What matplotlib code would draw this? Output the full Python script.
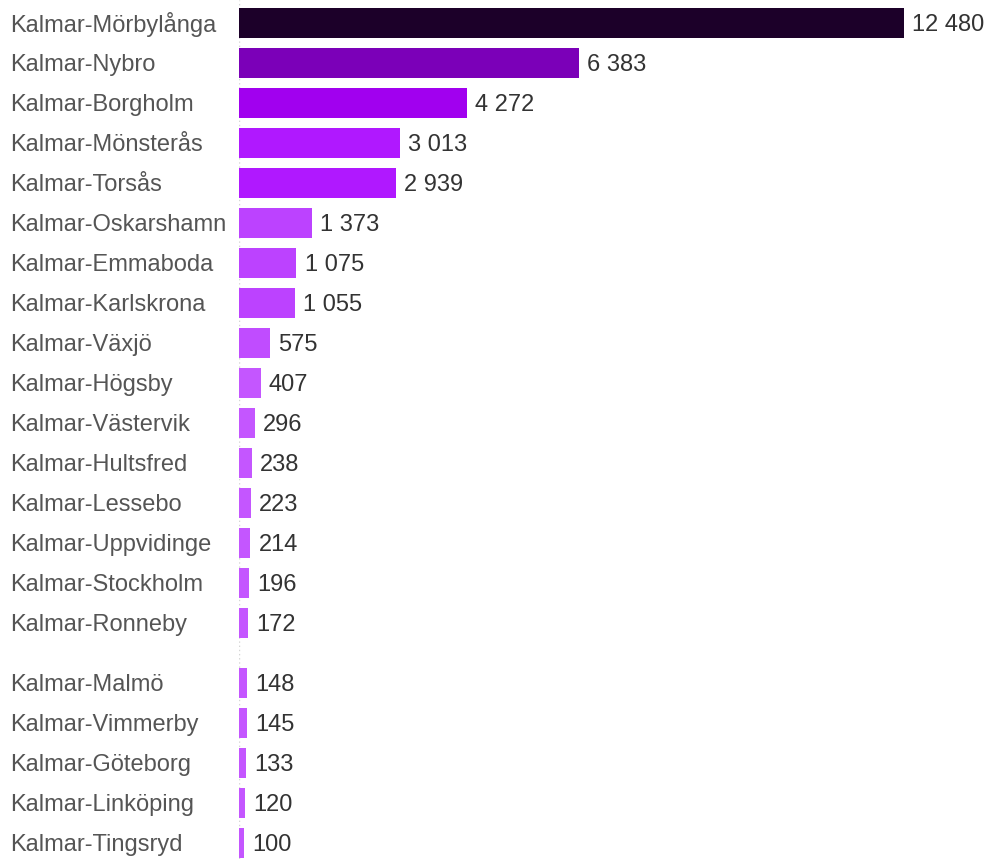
import matplotlib.pyplot as plt

routes = ['Kalmar-Mörbylånga', 'Kalmar-Nybro', 'Kalmar-Borgholm', 'Kalmar-Mönsterås',
          'Kalmar-Torsås', 'Kalmar-Oskarshamn', 'Kalmar-Emmaboda', 'Kalmar-Karlskrona',
          'Kalmar-Växjö', 'Kalmar-Högsby', 'Kalmar-Västervik', 'Kalmar-Hultsfred',
          'Kalmar-Lessebo', 'Kalmar-Uppvidinge', 'Kalmar-Stockholm', 'Kalmar-Ronneby',
          'Kalmar-Malmö', 'Kalmar-Vimmerby', 'Kalmar-Göteborg', 'Kalmar-Linköping',
          'Kalmar-Tingsryd']
values = [12480, 6383, 4272, 3013, 2939, 1373, 1075, 1055, 575, 407, 296, 238,
          223, 214, 196, 172, 148, 145, 133, 120, 100]


def bar_color(v):
    if v > 10000:
        return '#1c0029'
    if v > 5000:
        return '#7b00b8'
    if v > 4000:
        return '#a100ef'
    if v > 2000:
        return '#b018ff'
    if v > 1000:
        return '#bc42ff'
    if v > 500:
        return '#c04cff'
    return '#c456ff'


plt.rcParams['font.family'] = ['Liberation Sans', 'DejaVu Sans']

W, H = 988, 859
fig = plt.figure(figsize=(W / 100, H / 100), dpi=100)
ax_left = 239 / W
ax = fig.add_axes([ax_left, 0, 1 - ax_left, 1])

# the picture has an extra gap before the last five rows
ypos = [i + (0.5 if i >= 16 else 0) for i in range(len(routes))]
xmax = values[0] * (W - 239) / (904 - 239)

ax.axvline(0, color='#d5d5d5', lw=1, ls=(0, (1, 2)), zorder=0)
ax.barh(ypos, values, height=0.75, color=[bar_color(v) for v in values], zorder=2)
ax.set_xlim(0, xmax)
ax.set_ylim(-0.575 + H / 40, -0.575)

for y, v, name in zip(ypos, values, routes):
    ax.text(v + xmax * 0.011, y + 0.04, f'{v:,}'.replace(',', ' '), va='center', ha='left',
            fontsize=17, color='#333333')
    ax.annotate(name, xy=(0, y + 0.04), xycoords=('figure fraction', 'data'),
                xytext=(10, 0), textcoords='offset pixels',
                va='center', ha='left', fontsize=17, color='#555555')

ax.axis('off')
fig.savefig('out.png', dpi=100)
